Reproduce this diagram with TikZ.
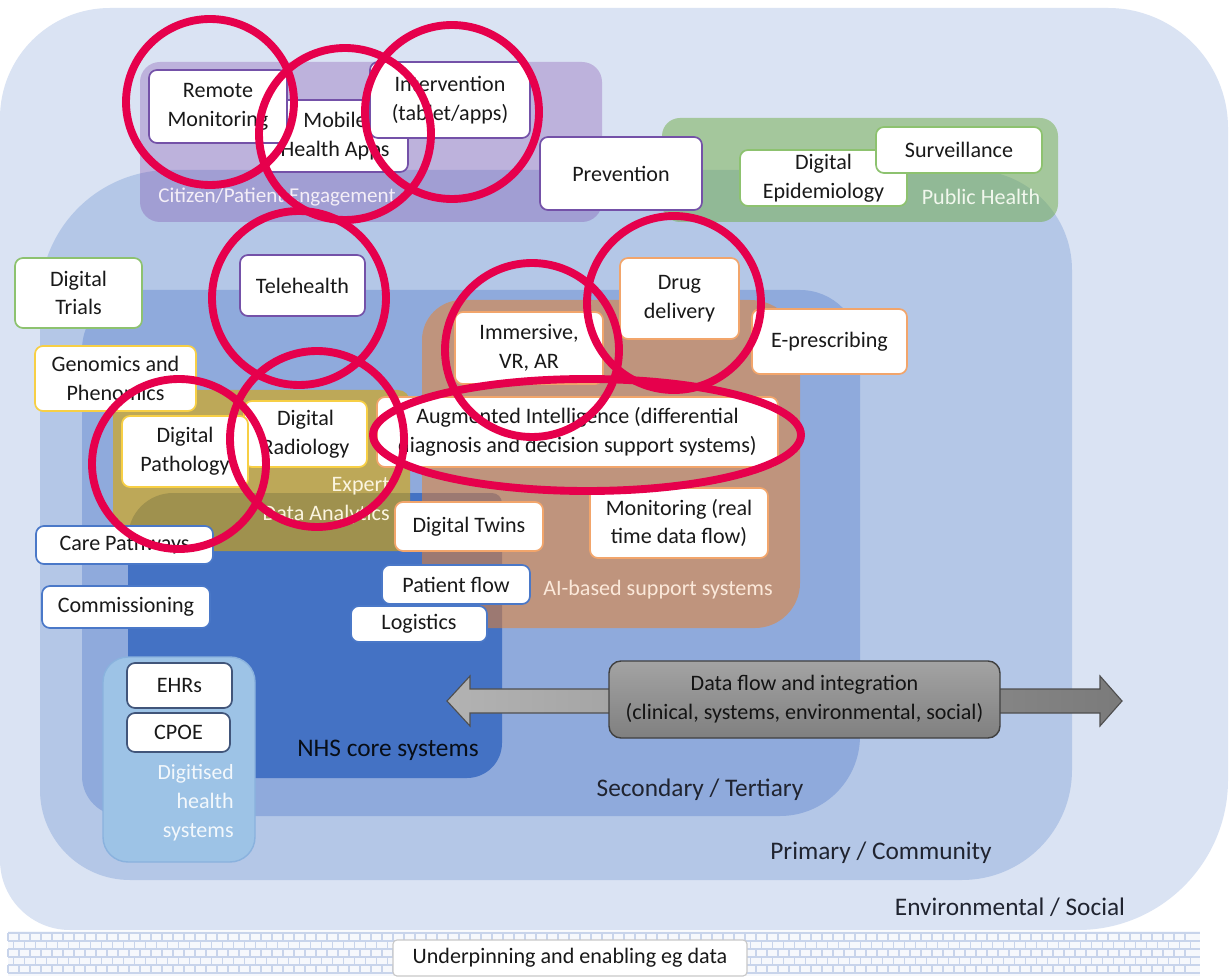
\documentclass[tikz,border=0pt]{standalone}
\usepackage{fontspec}
\setmainfont{Carlito}
\definecolor{envc}{HTML}{DAE3F3}
\definecolor{primc}{HTML}{B4C7E7}
\definecolor{secc}{HTML}{8FAADC}
\definecolor{nhsc}{HTML}{4472C4}
\definecolor{digc}{HTML}{9DC3E6}
\definecolor{digb}{HTML}{8AB2DE}
\definecolor{goldc}{HTML}{DDA700}
\definecolor{orgc}{HTML}{EB812A}
\definecolor{purc}{HTML}{7030A0}
\definecolor{grnc}{HTML}{70AD47}
\definecolor{purB}{HTML}{7451A8}
\definecolor{grnB}{HTML}{8DC26F}
\definecolor{yelB}{HTML}{F7CF45}
\definecolor{orgB}{HTML}{F2A56B}
\definecolor{bluB}{HTML}{4A78C8}
\definecolor{dbluB}{HTML}{41557A}
\definecolor{grayB}{HTML}{C8C8C8}
\definecolor{redc}{HTML}{E6004C}
\definecolor{darktxt}{HTML}{202430}
\definecolor{brickbg}{HTML}{F6F8FC}
\definecolor{brickln}{HTML}{C8D4EB}
\definecolor{arrB}{HTML}{4F4F4F}
\newcommand\boxfont{\fontsize{15.7}{20.5}\selectfont}
\newcommand\lblfont{\fontsize{18}{22}\selectfont}
% rounded rectangle with four radii: opts, x1,y1,x2,y2, rTL,rTR,rBR,rBL (y downwards)
\newcommand\rrect[9]{\path[#1] (#2,{#3+#6}) .. controls (#2,{#3+0.448*#6}) and ({#2+0.448*#6},#3) .. ({#2+#6},#3) -- ({#4-#7},#3) .. controls ({#4-0.448*#7},#3) and (#4,{#3+0.448*#7}) .. (#4,{#3+#7}) -- (#4,{#5-#8}) .. controls (#4,{#5-0.448*#8}) and ({#4-0.448*#8},#5) .. ({#4-#8},#5) -- ({#2+#9},#5) .. controls ({#2+0.448*#9},#5) and (#2,{#5-0.448*#9}) .. (#2,{#5-#9}) -- cycle;}
% white box: name, x1,y1,x2,y2, border colour, text
\newcommand\bx[7]{\node[wb,draw=#6,minimum width={(#4-#2)*0.025cm},minimum height={(#5-#3)*0.025cm}] (#1) at ({(#2+#4)/2},{(#3+#5)/2}) {#7};}
\begin{document}
\begin{tikzpicture}[x=0.025cm,y=-0.025cm,
  wb/.style={fill=white,rounded corners=0.2cm,line width=1.2pt,align=center,inner sep=0pt,font=\boxfont,text=black!90},
  lbl/.style={font=\lblfont,text=darktxt,inner sep=0pt},
  wlbl/.style={font=\boxfont,inner sep=0pt},
  ring/.style={draw=redc,line width=5.6pt}]
\useasboundingbox (0,0) rectangle (1231,978);
\fill[white] (0,0) rectangle (1231,978);
% nested settings
\rrect{fill=envc}{0}{8}{1228}{930}{110}{120}{150}{70}
\rrect{fill=primc}{40}{170}{1072}{880}{130}{100}{110}{90}
\rrect{fill=secc}{82}{290}{860}{816}{60}{60}{80}{40}
\rrect{fill=nhsc}{128}{493}{502}{778}{45}{10}{35}{20}
\rrect{fill=digc,draw=digb,line width=1pt}{103}{657}{255}{862}{25}{25}{25}{25}
% translucent groups
\rrect{fill=goldc,fill opacity=0.6}{113}{390}{410}{551}{12}{12}{12}{12}
\rrect{fill=orgc,fill opacity=0.53}{422}{300}{800}{628}{40}{50}{45}{45}
\rrect{fill=purc,fill opacity=0.27}{140}{62}{602}{222}{20}{20}{20}{20}
\rrect{fill=grnc,fill opacity=0.5}{662}{118}{1058}{222}{18}{18}{18}{18}
% group labels
\node[wlbl,text=white!92!purc] (lcit) at (277,197) {\fontsize{15}{18}\selectfont Citizen/Patient Engagement};
\node[wlbl,text=white!90!grnc] (lph) at (981,197) {Public Health};
\node[wlbl,text=white!88!goldc,anchor=east,align=right] (lexp) at (390,501) {Expert\\Data Analytics};
\node[wlbl,text=white!82!orgc] (lai) at (658,590) {AI-based support systems};
\node[wlbl,text=white!88!digc,anchor=east,align=right] (ldig) at (234,803) {\fontsize{15.4}{29}\selectfont Digitised\\health\\systems};
\node[lbl,text=black!88!nhsc] (lnhs) at (388,750) {NHS core systems};
\node[lbl] (lsec) at (700,790) {Secondary / Tertiary};
\node[lbl] (lpri) at (881,853) {Primary / Community};
\node[lbl] (lenv) at (1010,907) {Environmental / Social};
% boxes
\bx{mob}{262}{100}{408}{172}{purB}{Mobile\\Health Apps}
\bx{rm}{149}{70}{287}{143}{purB}{Remote\\Monitoring}
\bx{int}{370}{62}{530}{138}{purB}{Intervention\\(tablet/apps)}
\bx{prev}{540}{137}{702}{210}{purB}{Prevention}
\bx{epi}{740}{150}{907}{206}{grnB}{Digital\\Epidemiology}
\bx{surv}{876}{127}{1042}{173}{grnB}{Surveillance}
\bx{trials}{15}{258}{142}{328}{grnB}{Digital\\Trials}
\bx{tele}{240}{255}{365}{316}{purB}{Telehealth}
\bx{geno}{35}{346}{196}{411}{yelB}{Genomics and\\Phenomics}
\bx{rad}{244}{401}{367}{467}{yelB}{Digital\\Radiology}
\bx{path}{122}{416}{248}{487}{yelB}{Digital\\Pathology}
\bx{imm}{455}{312}{603}{384}{orgB}{Immersive,\\VR, AR}
\bx{drug}{620}{258}{739}{339}{orgB}{Drug\\delivery}
\bx{epre}{752}{309}{907}{374}{orgB}{E-prescribing}
\bx{aug}{377}{397}{778}{467}{orgB}{Augmented Intelligence (differential\\diagnosis and decision support systems)}
\bx{mon}{590}{488}{768}{558}{orgB}{Monitoring (real\\time data flow)}
\bx{twins}{395}{502}{543}{551}{orgB}{Digital Twins}
\bx{pflow}{382}{565}{530}{604}{bluB}{Patient flow}
\bx{logi}{351}{606}{487}{642}{bluB}{Logistics}
\bx{care}{36}{526}{213}{564}{bluB}{Care Pathways}
\bx{comm}{42}{586}{210}{628}{bluB}{Commissioning}
\bx{ehr}{127}{663}{232}{708}{dbluB}{EHRs}
\bx{cpoe}{127}{713}{230}{752}{dbluB}{CPOE}
% data flow double arrow
\coordinate (dfL) at (447,701);
\coordinate (dfR) at (1122,701);
\path[draw=arrB,line width=0.8pt,left color=black!30,right color=black!52]
  (dfL) -- (470,676) -- (470,689) -- (1100,689) -- (1100,676) -- (dfR)
  -- (1100,726) -- (1100,713) -- (470,713) -- (470,726) -- cycle;
\node[draw=black!75,line width=1pt,top color=black!36,bottom color=black!50,rounded corners=0.3cm,
  minimum width={391*0.025cm},minimum height={77*0.025cm},inner sep=0pt,align=center,font=\boxfont,text=black!92]
  (dflow) at (804.5,699.5) {Data flow and integration\\(clinical, systems, environmental, social)};
% underpinning brick band
\fill[brickbg] (8,931) rectangle (1200,976);
\foreach \i in {0,...,5} \draw[brickln,line width=0.9pt] (8,{933+8*\i}) -- (1200,{933+8*\i});
\foreach \i in {0,...,4} \foreach \k in {0,...,107} \draw[brickln,line width=0.9pt] ({8+11*\k+5.5*mod(\i,2)},{933+8*\i}) -- ++(0,8);
\node[wb,draw=grayB,line width=0.8pt,rounded corners=0.1cm,minimum width={354*0.025cm},minimum height={36*0.025cm}] (under) at (570,958) {Underpinning and enabling eg data};
% red annotation rings
\draw[ring] (210,102) ellipse [x radius=84, y radius=83];
\draw[ring] (345,134) ellipse [x radius=86, y radius=86];
\draw[ring] (452,112) ellipse [x radius=87, y radius=87];
\draw[ring] (299,298) ellipse [x radius=87, y radius=87];
\draw[ring] (179,464) ellipse [x radius=87, y radius=85];
\draw[ring] (317,439) ellipse [x radius=87, y radius=88];
\draw[ring] (532,350) ellipse [x radius=87, y radius=87];
\draw[ring] (674,303) ellipse [x radius=87, y radius=87];
\draw[ring] (587,435) ellipse [x radius=214, y radius=56];
\end{tikzpicture}
\end{document}
